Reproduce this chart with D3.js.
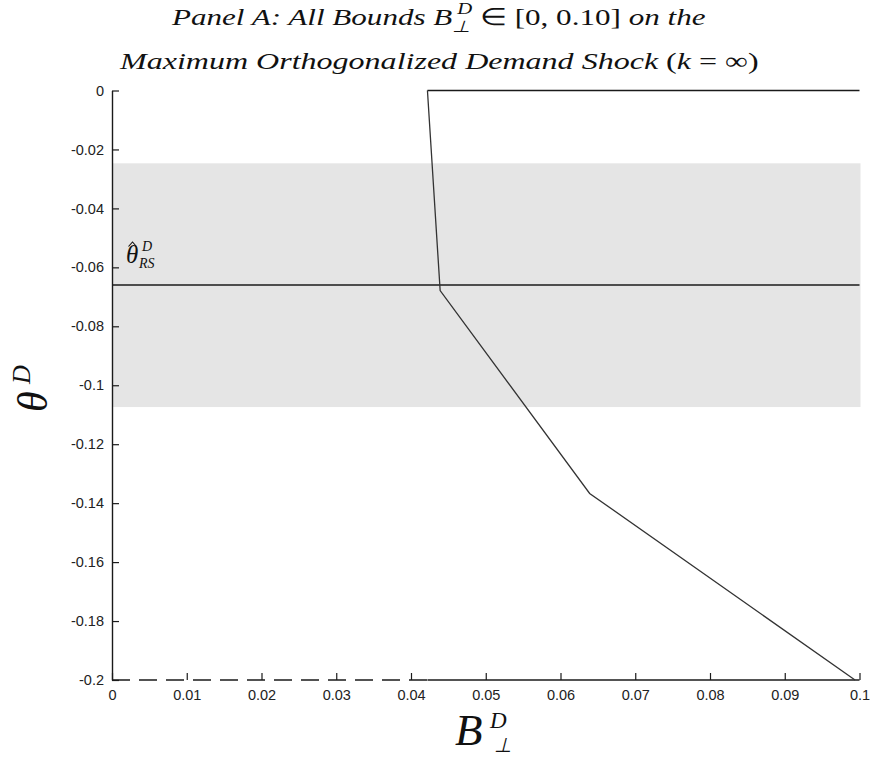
<!DOCTYPE html>
<html>
<head>
<meta charset="utf-8">
<script src="https://cdn.jsdelivr.net/npm/d3@7"></script>
<style>
  html, body { margin: 0; padding: 0; background: #fff; }
  svg { display: block; }
  .tick text { font-family: "Liberation Sans", Arial, sans-serif; font-size: 14.5px; fill: #222; }
  .serif { font-family: "Liberation Serif", "Times New Roman", serif; font-style: italic; fill: #111; }
</style>
</head>
<body>
<svg id="chart" width="870" height="758"></svg>
<script>
// Axis ticks
const xTicks = [0, 0.01, 0.02, 0.03, 0.04, 0.05, 0.06, 0.07, 0.08, 0.09, 0.1];
const xTickLabels = ["0", "0.01", "0.02", "0.03", "0.04", "0.05", "0.06", "0.07", "0.08", "0.09", "0.1"];
const yTicks = [0, -0.02, -0.04, -0.06, -0.08, -0.1, -0.12, -0.14, -0.16, -0.18, -0.2];
const yTickLabels = ["0", "-0.02", "-0.04", "-0.06", "-0.08", "-0.1", "-0.12", "-0.14", "-0.16", "-0.18", "-0.2"];

// Frontier of the identified set: bound B (x) vs. theta (y)
const boundB     = [0.0422, 0.0439, 0.0639, 0.0994];
const boundTheta = [0, -0.0679, -0.1367, -0.2];

// Upper edge (theta = 0) and lower edge (theta = -0.2) of the set
const topEdgeB = [0.0422, 0.1];
const bottomSolidB = [0.0422, 0.1];
const bottomDashedB = [0, 0.0422];
const thetaTop = 0;
const thetaBottom = -0.2;

// Point estimate and its confidence band
const thetaRS = -0.066;
const bandTheta = [-0.0247, -0.1074];

const svg = d3.select("#chart");
const x = d3.scaleLinear().domain([0, 0.1]).range([112, 859.5]);
const y = d3.scaleLinear().domain([0, -0.2]).range([90.5, 680]);

// confidence band
svg.append("rect")
  .attr("x", x(0)).attr("width", x(0.1) - x(0) + 1)
  .attr("y", y(bandTheta[0])).attr("height", y(bandTheta[1]) - y(bandTheta[0]))
  .attr("fill", "#e5e5e5");

const line = d3.line().x(d => x(d[0])).y(d => y(d[1]));
const strokeCol = "#1a1a1a";

// estimate line
svg.append("path")
  .attr("d", line([[0, thetaRS], [0.1, thetaRS]]))
  .attr("fill", "none").attr("stroke", strokeCol).attr("stroke-width", 1.4);

// top edge
svg.append("path")
  .attr("d", line(topEdgeB.map(b => [b, thetaTop])))
  .attr("fill", "none").attr("stroke", strokeCol).attr("stroke-width", 1.4);

// bottom edge: dashed outside the set, solid inside
svg.append("path")
  .attr("d", line(bottomDashedB.map(b => [b, thetaBottom])))
  .attr("fill", "none").attr("stroke", strokeCol).attr("stroke-width", 1.4)
  .attr("stroke-dasharray", "18,9");
svg.append("path")
  .attr("d", line(bottomSolidB.map(b => [b, thetaBottom])))
  .attr("fill", "none").attr("stroke", strokeCol).attr("stroke-width", 1.4);

// frontier
svg.append("path")
  .attr("d", line(boundB.map((b, i) => [b, boundTheta[i]])))
  .attr("fill", "none").attr("stroke", "#333").attr("stroke-width", 1.3);

// axes
const yAxis = d3.axisLeft(y).tickValues(yTicks)
  .tickFormat((d, i) => yTickLabels[i]).tickSizeInner(-7).tickSizeOuter(0).tickPadding(8);
const gy = svg.append("g").attr("transform", `translate(${x(0)},0)`).call(yAxis);
gy.select(".domain").attr("stroke", strokeCol).attr("stroke-width", 1.4);
gy.selectAll(".tick line").attr("stroke", strokeCol).attr("stroke-width", 1.2);

const xAxis = d3.axisBottom(x).tickValues(xTicks)
  .tickFormat((d, i) => xTickLabels[i]).tickSizeInner(-7).tickSizeOuter(0).tickPadding(10);
const gx = svg.append("g").attr("transform", `translate(0,${y(-0.2)})`).call(xAxis);
gx.select(".domain").remove();
gx.selectAll(".tick line").attr("stroke", strokeCol).attr("stroke-width", 1.2);

// helper: widen a text line horizontally so it spans [x0, x0 + target]
function fitWidth(sel, x0, target) {
  const w = sel.node().getBBox().width;
  const s = target / w;
  sel.attr("transform", `translate(${x0},0) scale(${s},1)`);
}

// title
const t1 = svg.append("text").attr("class", "serif").attr("x", 0).attr("y", 25).attr("font-size", 24);
t1.append("tspan").text("Panel A: All Bounds B");
t1.append("tspan").attr("font-size", 16).attr("dy", 7).text("\u22A5");
t1.append("tspan").attr("font-size", 16).attr("dx", -10).attr("dy", -18).text("D");
t1.append("tspan").attr("dy", 11).attr("font-style", "normal").text(" \u2208 [0, 0.10] ");
t1.append("tspan").text("on the");
fitWidth(t1, 172, 536);

const t2 = svg.append("text").attr("class", "serif").attr("x", 0).attr("y", 69).attr("font-size", 24);
t2.append("tspan").text("Maximum Orthogonalized Demand Shock ");
t2.append("tspan").attr("font-style", "normal").text("(");
t2.append("tspan").text("k");
t2.append("tspan").attr("font-style", "normal").text(" = \u221E)");
fitWidth(t2, 120, 640);

// estimate label: theta-hat with super/subscripts
svg.append("text").attr("class", "serif").attr("x", 126).attr("y", 263).attr("font-size", 25).text("\u03B8");
svg.append("path").attr("d", "M128.5,246.5 L132.5,242 L136.5,246.5")
  .attr("fill", "none").attr("stroke", "#111").attr("stroke-width", 1.1);
svg.append("text").attr("class", "serif").attr("x", 142).attr("y", 251).attr("font-size", 14).text("D");
svg.append("text").attr("class", "serif").attr("x", 139).attr("y", 268).attr("font-size", 14).text("RS");

// y-axis label
const yl = svg.append("g").attr("transform", "translate(47,412) rotate(-90)");
yl.append("text").attr("class", "serif").attr("x", 0).attr("y", 0).attr("font-size", 42).text("\u03B8");
yl.append("text").attr("class", "serif").attr("x", 28).attr("y", -17).attr("font-size", 26).text("D");

// x-axis label
svg.append("text").attr("class", "serif").attr("x", 455).attr("y", 745).attr("font-size", 45).text("B");
svg.append("text").attr("class", "serif").attr("x", 490).attr("y", 728).attr("font-size", 23).text("D");
svg.append("text").attr("class", "serif").attr("x", 494).attr("y", 752).attr("font-size", 20)
  .attr("font-style", "normal").text("\u22A5");
</script>
</body>
</html>
